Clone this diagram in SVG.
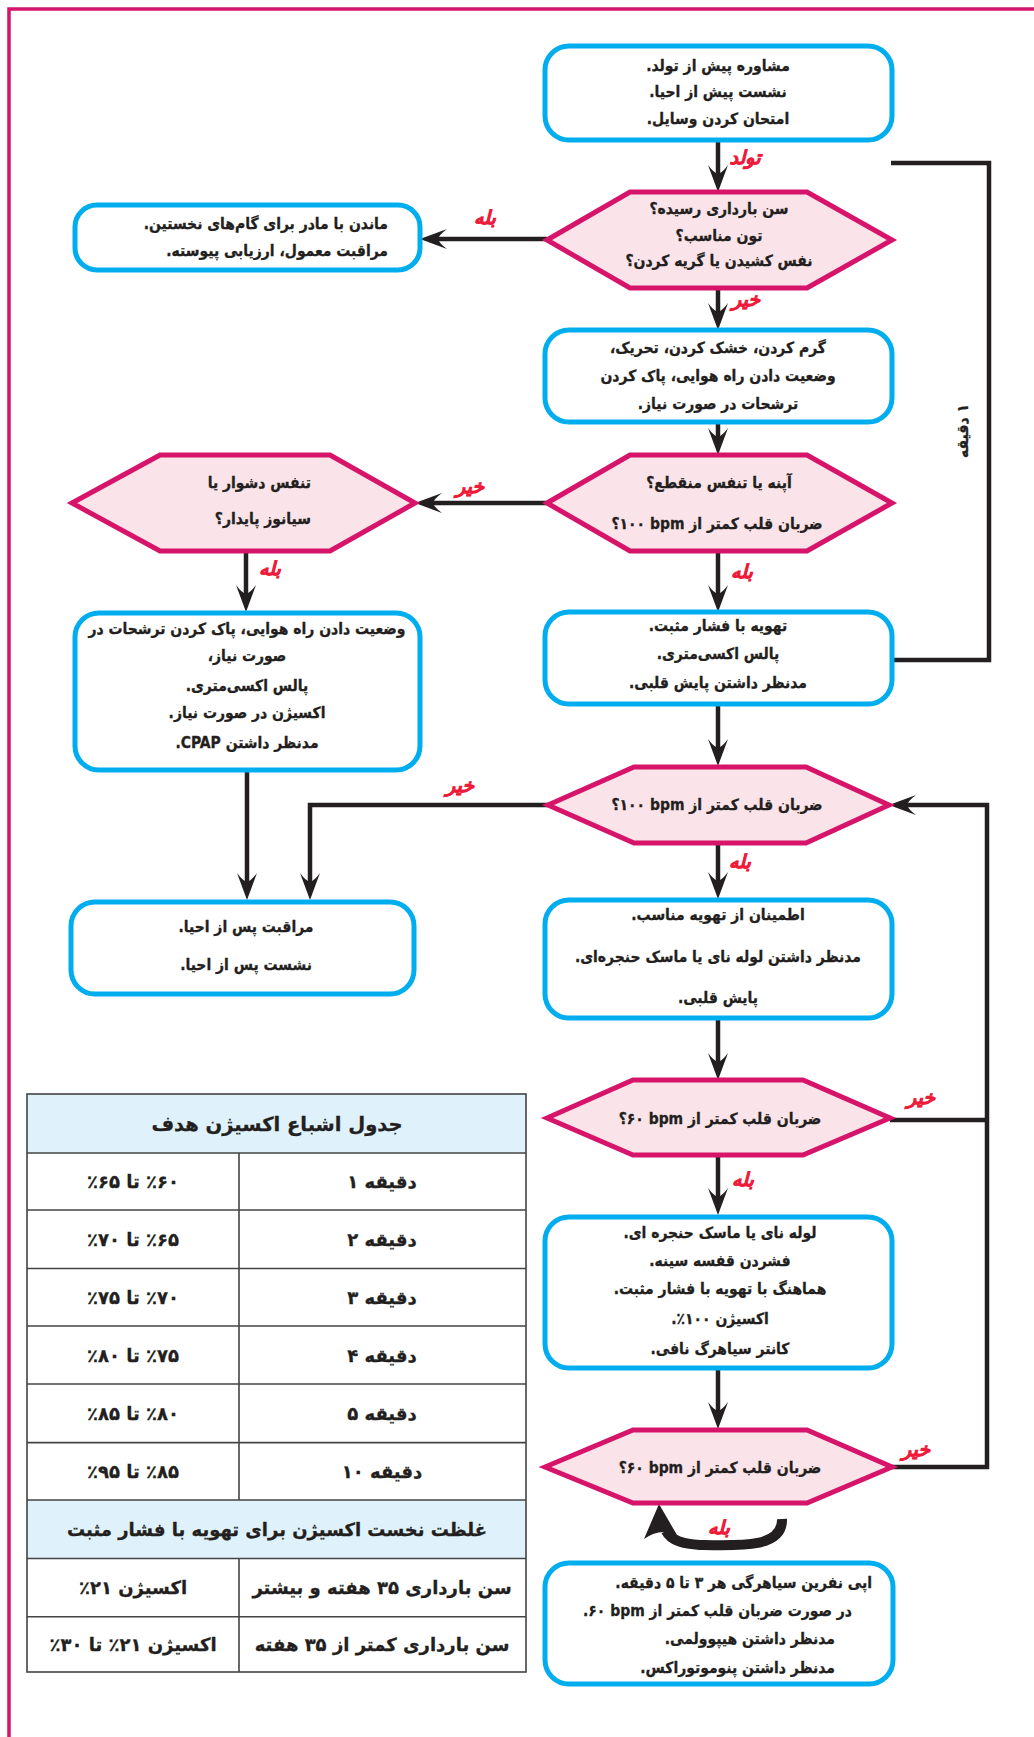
<svg xmlns="http://www.w3.org/2000/svg" width="1034" height="1737" viewBox="0 0 1034 1737">
<style>
.box{fill:#fff;stroke:#00AEEF;stroke-width:5}
.hex{fill:#FBE4E9;stroke:#D5146A;stroke-width:5}
.t{font-family:"DejaVu Sans Condensed","DejaVu Sans","Noto Sans",sans-serif;font-stretch:condensed;font-weight:bold;font-size:15.5px;fill:#231F20;stroke:#231F20;stroke-width:0.3;direction:rtl;text-anchor:middle}
.r{text-anchor:start}
.lbl{font-family:"DejaVu Sans","Noto Sans",sans-serif;font-weight:bold;font-style:italic;font-size:19px;fill:#EE1C3A;stroke:#EE1C3A;stroke-width:0.6;direction:rtl;text-anchor:middle}
.conn{stroke:#231F20;stroke-width:4.5;fill:none}
.tb{font-family:"DejaVu Sans","Noto Sans",sans-serif;font-stretch:normal;font-size:18px}
.th{font-size:19.5px}
.grid{stroke:#444;stroke-width:1.6;fill:none}
.hd{fill:#DFF1FA}
</style>
<defs>
<marker id="ah" viewBox="-30 -12 32 24" refX="-10" refY="0" markerWidth="32" markerHeight="24" markerUnits="userSpaceOnUse" orient="auto">
<path d="M0,0 L-27,-10 Q-19,-4 -18,0 Q-19,4 -27,10 Z" fill="#231F20"/>
</marker>
</defs>
<rect width="1034" height="1737" fill="#fff"/>
<path d="M9,1737 V9 H1034" fill="none" stroke="#D5146A" stroke-width="3.5"/>

<g id="connectors">
<path class="conn" d="M718,141 V182" marker-end="url(#ah)"/>
<path class="conn" d="M547,239 H430" marker-end="url(#ah)"/>
<path class="conn" d="M718,288 V320" marker-end="url(#ah)"/>
<path class="conn" d="M718,422 V445" marker-end="url(#ah)"/>
<path class="conn" d="M547,503 H425" marker-end="url(#ah)"/>
<path class="conn" d="M246,551 V602" marker-end="url(#ah)"/>
<path class="conn" d="M718,551 V602" marker-end="url(#ah)"/>
<path class="conn" d="M718,704 V756" marker-end="url(#ah)"/>
<path class="conn" d="M247,770 V890" marker-end="url(#ah)"/>
<path class="conn" d="M548,805 H310 V890" marker-end="url(#ah)"/>
<path class="conn" d="M718,843 V889" marker-end="url(#ah)"/>
<path class="conn" d="M718,1018 V1070" marker-end="url(#ah)"/>
<path class="conn" d="M718,1155 V1205" marker-end="url(#ah)"/>
<path class="conn" d="M718,1368 V1419" marker-end="url(#ah)"/>
<path class="conn" d="M891,163 H989 V660 H891"/>
<path class="conn" d="M890,1120 H987"/>
<path class="conn" d="M892,1467 H987 V805 H899" marker-end="url(#ah)"/>
<path d="M782,1519 C783,1548 740,1546 700,1545 C684,1544 671,1541 666,1531" fill="none" stroke="#231F20" stroke-width="10"/>
<path d="M659,1504 L644,1539 Q655,1531 666,1532 Q671,1533 677,1535 Z" fill="#231F20"/>
<text class="lbl" x="745" y="164">تولد</text>
<text class="lbl" x="485" y="224">بله</text>
<text class="lbl" x="746" y="306">خیر</text>
<text class="lbl" x="470" y="493">خیر</text>
<text class="lbl" x="270" y="575">بله</text>
<text class="lbl" x="742" y="578">بله</text>
<text class="lbl" x="460" y="792">خیر</text>
<text class="lbl" x="740" y="868">بله</text>
<text class="lbl" x="921" y="1104">خیر</text>
<text class="lbl" x="743" y="1186">بله</text>
<text class="lbl" x="916" y="1456">خیر</text>
<text class="lbl" x="719" y="1534">بله</text>
<text class="t" transform="translate(963,431) rotate(-90)" y="5">۱ دقیقه</text>
</g>

<g id="nodeA">
<rect class="box" x="545" y="46" width="347" height="94" rx="24"/>
<text class="t" x="718" y="71">مشاوره پیش از تولد.</text>
<text class="t" x="718" y="97">نشست پیش از احیا.</text>
<text class="t" x="718" y="124">امتحان کردن وسایل.</text>
</g>

<g id="nodeB">
<polygon class="hex" points="547,240 630,192 807,192 892,240 807,288 630,288"/>
<text class="t" x="719" y="214">سن بارداری رسیده؟</text>
<text class="t" x="719" y="241">تون مناسب؟</text>
<text class="t" x="719" y="266">نفس کشیدن یا گریه کردن؟</text>
</g>

<g id="nodeC">
<rect class="box" x="75" y="205" width="345" height="65" rx="22"/>
<text class="t r" x="388" y="229">ماندن با مادر برای گام‌های نخستین.</text>
<text class="t r" x="388" y="256">مراقبت معمول، ارزیابی پیوسته.</text>
</g>

<g id="nodeD">
<rect class="box" x="545" y="330" width="347" height="92" rx="24"/>
<text class="t" x="718" y="353">گرم کردن، خشک کردن، تحریک،</text>
<text class="t" x="718" y="381">وضعیت دادن راه هوایی، پاک کردن</text>
<text class="t" x="718" y="409">ترشحات در صورت نیاز.</text>
</g>

<g id="nodeE">
<polygon class="hex" points="547,503 630,455 807,455 892,503 807,551 630,551"/>
<text class="t" x="719" y="488">آپنه یا تنفس منقطع؟</text>
<text class="t" x="717" y="529">ضربان قلب کمتر از bpm&#x200F; ۱۰۰؟</text>
</g>

<g id="nodeF">
<polygon class="hex" points="72,503 160,455 330,455 415,503 330,551 160,551"/>
<text class="t r" x="311" y="488">تنفس دشوار یا</text>
<text class="t r" x="311" y="524">سیانوز پایدار؟</text>
</g>

<g id="nodeG">
<rect class="box" x="75" y="613" width="345" height="157" rx="24"/>
<text class="t" x="247" y="634">وضعیت دادن راه هوایی، پاک کردن ترشحات در</text>
<text class="t" x="247" y="661">صورت نیاز،</text>
<text class="t" x="247" y="691">پالس اکسی‌متری.</text>
<text class="t" x="247" y="718">اکسیژن در صورت نیاز.</text>
<text class="t" x="247" y="748">مدنظر داشتن CPAP.</text>
</g>

<g id="nodeH">
<rect class="box" x="545" y="612" width="347" height="92" rx="24"/>
<text class="t" x="718" y="631">تهویه با فشار مثبت.</text>
<text class="t" x="718" y="659">پالس اکسی‌متری.</text>
<text class="t" x="718" y="688">مدنظر داشتن پایش قلبی.</text>
</g>

<g id="nodeI">
<polygon class="hex" points="548,805 634,767 806,767 889,805 806,843 634,843"/>
<text class="t" x="717" y="810">ضربان قلب کمتر از bpm&#x200F; ۱۰۰؟</text>
</g>

<g id="nodeJ">
<rect class="box" x="71" y="902" width="343" height="92" rx="24"/>
<text class="t" x="246" y="932">مراقبت پس از احیا.</text>
<text class="t" x="246" y="970">نشست پس از احیا.</text>
</g>

<g id="nodeK">
<rect class="box" x="545" y="900" width="347" height="118" rx="24"/>
<text class="t" x="718" y="920">اطمینان از تهویه مناسب.</text>
<text class="t" x="718" y="962">مدنظر داشتن لوله نای یا ماسک حنجره‌ای.</text>
<text class="t" x="718" y="1003">پایش قلبی.</text>
</g>

<g id="nodeL">
<polygon class="hex" points="547,1118 633,1080 803,1080 890,1118 803,1155 633,1155"/>
<text class="t" x="720" y="1124">ضربان قلب کمتر از bpm&#x200F; ۶۰؟</text>
</g>

<g id="nodeM">
<rect class="box" x="545" y="1217" width="347" height="151" rx="24"/>
<text class="t" x="720" y="1238">لوله نای یا ماسک حنجره ای.</text>
<text class="t" x="720" y="1266">فشردن قفسه سینه.</text>
<text class="t" x="720" y="1294">هماهنگ با تهویه با فشار مثبت.</text>
<text class="t" x="720" y="1324">اکسیژن ۱۰۰٪.</text>
<text class="t" x="720" y="1354">کانتر سیاهرگ نافی.</text>
</g>

<g id="nodeN">
<polygon class="hex" points="545,1467 633,1430 807,1430 892,1467 807,1503 633,1503"/>
<text class="t" x="720" y="1473">ضربان قلب کمتر از bpm&#x200F; ۶۰؟</text>
</g>

<g id="nodeO">
<rect class="box" x="545" y="1563" width="348" height="121" rx="24"/>
<text class="t r" x="872" y="1588">اپی نفرین سیاهرگی هر ۳ تا ۵ دقیقه.</text>
<text class="t r" x="852" y="1616">در صورت ضربان قلب کمتر از bpm&#x200F; ۶۰.</text>
<text class="t r" x="835" y="1644">مدنظر داشتن هیپوولمی.</text>
<text class="t r" x="835" y="1673">مدنظر داشتن پنوموتوراکس.</text>
</g>

<g id="table">
<rect class="hd" x="27" y="1094" width="499" height="59"/>
<rect class="hd" x="27" y="1500" width="499" height="58.5"/>
<rect class="grid" x="27" y="1094" width="499" height="578"/>
<path class="grid" d="M27,1153 H526 M27,1210 H526 M27,1268.5 H526 M27,1326 H526 M27,1384 H526 M27,1442.6 H526 M27,1500 H526 M27,1558.5 H526 M27,1616.7 H526 M239,1153 V1500 M239,1558.5 V1672"/>
<text class="t tb th" x="277" y="1131">جدول اشباع اکسیژن هدف</text>
<text class="t tb" x="382" y="1188">دقیقه ۱</text>
<text class="t tb" x="133" y="1188">&#x61C;۶۰٪ تا ۶۵٪</text>
<text class="t tb" x="382" y="1246">دقیقه ۲</text>
<text class="t tb" x="133" y="1246">&#x61C;۶۵٪ تا ۷۰٪</text>
<text class="t tb" x="382" y="1304">دقیقه ۳</text>
<text class="t tb" x="133" y="1304">&#x61C;۷۰٪ تا ۷۵٪</text>
<text class="t tb" x="382" y="1362">دقیقه ۴</text>
<text class="t tb" x="133" y="1362">&#x61C;۷۵٪ تا ۸۰٪</text>
<text class="t tb" x="382" y="1420">دقیقه ۵</text>
<text class="t tb" x="133" y="1420">&#x61C;۸۰٪ تا ۸۵٪</text>
<text class="t tb" x="382" y="1478">دقیقه ۱۰</text>
<text class="t tb" x="133" y="1478">&#x61C;۸۵٪ تا ۹۵٪</text>
<text class="t tb" x="277" y="1536">غلظت نخست اکسیژن برای تهویه با فشار مثبت</text>
<text class="t tb" x="382" y="1594">سن بارداری ۳۵ هفته و بیشتر</text>
<text class="t tb" x="133" y="1594">اکسیژن ۲۱٪</text>
<text class="t tb" x="382" y="1651">سن بارداری کمتر از ۳۵ هفته</text>
<text class="t tb" x="133" y="1651">اکسیژن ۲۱٪ تا ۳۰٪</text>
</g>
</svg>
